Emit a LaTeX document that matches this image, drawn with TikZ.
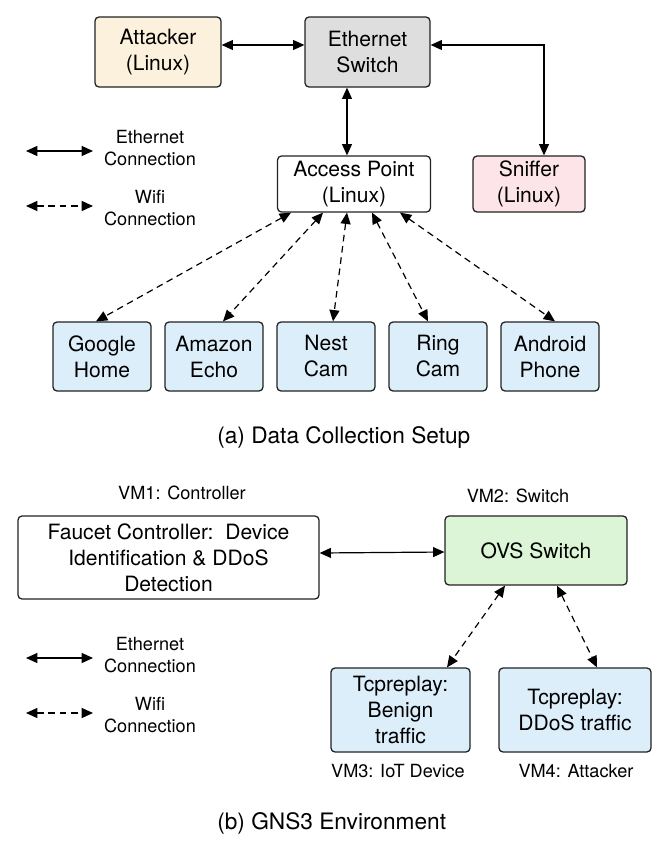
\documentclass[tikz,border=0pt]{standalone}
\usepackage{fontspec}
\setmainfont{TeX Gyre Heros}
\usetikzlibrary{arrows.meta,calc}
\definecolor{attfill}{HTML}{FBF1DC}
\definecolor{swfill}{HTML}{DEDEDE}
\definecolor{snfill}{HTML}{FDE4E9}
\definecolor{devfill}{HTML}{DDEEFB}
\definecolor{ovsfill}{HTML}{DCF5D6}
\definecolor{edge}{HTML}{222222}
\tikzset{
  box/.style={draw=edge, line width=0.95pt, rounded corners=3pt, align=center,
    inner sep=0pt, font=\fontsize{15.8}{19.5}\selectfont},
  lab/.style={align=center, inner sep=0pt, font=\fontsize{13.6}{16.5}\selectfont},
  captxt/.style={inner sep=0pt, font=\fontsize{17}{20}\selectfont},
  conn/.style={line width=0.9pt, {Triangle[length=8.5pt,width=7.5pt]}-{Triangle[length=8.5pt,width=7.5pt]}},
  wconn/.style={conn, dash pattern=on 5pt off 3.5pt},
}
\begin{document}
\begin{tikzpicture}[x=0.75pt,y=-0.75pt]
\useasboundingbox (0,0) rectangle (664,860);
% ---------- (a) ----------
\node[box, fill=attfill, minimum width=94.5pt, minimum height=52.5pt] (att) at (158,52) {Attacker\\(Linux)};
\node[box, fill=swfill, minimum width=93.75pt, minimum height=52.5pt] (sw) at (367.5,52) {Ethernet\\Switch};
\node[box, fill=white, minimum width=114.75pt, minimum height=42pt] (ap) at (354,184) {Access Point\\(Linux)};
\node[box, fill=snfill, minimum width=84pt, minimum height=42pt] (sn) at (529,184) {Sniffer\\(Linux)};
\foreach \n/\t/\xx in {gh/{Google\\Home}/102, ae/{Amazon\\Echo}/214, nc/{Nest\\Cam}/326, rc/{Ring\\Cam}/438, an/{Android\\Phone}/550}{
  \node[box, fill=devfill, minimum width=73.5pt, minimum height=51.75pt] (\n) at (\xx,356.5) {\t};
}
\draw[conn] (att.east |- 0,45) -- (sw.west |- 0,45);
\coordinate (snc) at (544,45);
\draw[conn] (sw.east |- 0,45) -- (snc) -- (snc |- sn.north);
\draw[conn] ($(sw.south)+(-20.5,0)$) -- ($(ap.north)+(-7,0)$);
\draw[wconn] ($(ap.south)+(-63,0)$) -- ($(gh.north)+(-6,0)$);
\draw[wconn] ($(ap.south)+(-31,0)$) -- ($(ae.north)+(9,0)$);
\draw[wconn] ($(ap.south)+(-7,0)$) -- ($(nc.north)+(7,0)$);
\draw[wconn] ($(ap.south)+(18,0)$) -- ($(rc.north)+(-10,0)$);
\draw[wconn] ($(ap.south)+(46,0)$) -- ($(an.north)+(5,0)$);
% legend a
\coordinate (l1a) at (26,151); \coordinate (l1b) at (93,151);
\coordinate (l2a) at (26,206); \coordinate (l2b) at (93,206);
\draw[conn] (l1a) -- (l1b);
\draw[wconn] (l2a) -- (l2b);
\node[lab] (l1t) at (150,148) {Ethernet\\Connection};
\node[lab] (l2t) at (150,208) {Wifi\\Connection};
\node[captxt, anchor=west] (capa) at (217,437) {(a) Data Collection Setup};
% ---------- (b) ----------
\node[box, fill=white, minimum width=225.75pt, minimum height=62.25pt] (fc) at (168.5,557.5) {Faucet Controller:\ \ Device\\Identification \& DDoS\\Detection};
\node[box, fill=ovsfill, minimum width=136.5pt, minimum height=51.75pt] (ovs) at (536,550.5) {OVS Switch};
\node[box, fill=devfill, minimum width=104.25pt, minimum height=63pt] (t1) at (400.5,710) {Tcpreplay:\\Benign\\traffic};
\node[box, fill=devfill, minimum width=114pt, minimum height=63pt] (t2) at (575,710) {Tcpreplay:\\DDoS traffic};
\node[lab] (vm1) at (182,493) {VM1: Controller};
\node[lab] (vm2) at (518,496) {VM2: Switch};
\node[lab] (vm3) at (398,771) {VM3: IoT Device};
\node[lab] (vm4) at (576,771) {VM4: Attacker};
\draw[conn] (fc.east |- 0,553) -- (ovs.west |- 0,552);
\draw[wconn] ($(ovs.south)+(-31,0)$) -- ($(t1.north)+(46.5,0)$);
\draw[wconn] ($(ovs.south)+(21,0)$) -- ($(t2.north)+(22,0)$);
% legend b
\coordinate (m1a) at (26,658); \coordinate (m1b) at (93,658);
\coordinate (m2a) at (26,713); \coordinate (m2b) at (93,713);
\draw[conn] (m1a) -- (m1b);
\draw[wconn] (m2a) -- (m2b);
\node[lab] (m1t) at (150,655.5) {Ethernet\\Connection};
\node[lab] (m2t) at (150,715.5) {Wifi\\Connection};
\node[captxt, anchor=west] (capb) at (217,823) {(b) GNS3 Environment};
\end{tikzpicture}
\end{document}
